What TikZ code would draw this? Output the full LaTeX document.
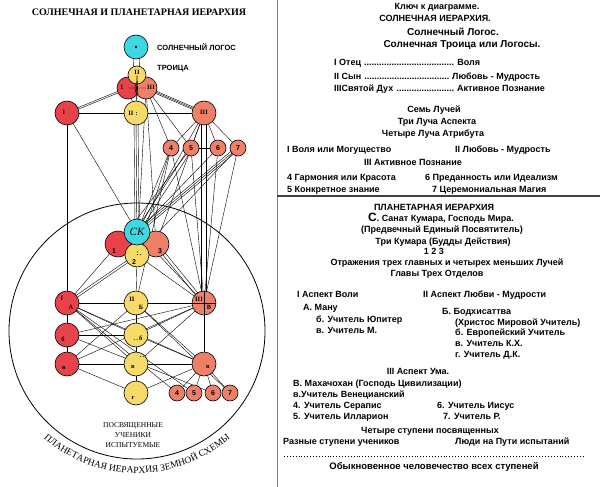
\documentclass[tikz,border=0pt]{standalone}
\usepackage{fontspec}
\setmainfont{Liberation Serif}
\setsansfont{Liberation Sans}
\usetikzlibrary{backgrounds,decorations.text}

\definecolor{rayred}{RGB}{233,66,74}
\definecolor{rayyellow}{RGB}{247,218,104}
\definecolor{raysalmon}{RGB}{239,128,104}
\definecolor{raycyan}{RGB}{62,216,226}

% dotted leader of fixed width
\newcommand{\keydots}[2]{\makebox[#1][s]{#2\ \cleaders\hbox{.}\hfill\ }}

\begin{document}
\begin{tikzpicture}[x=1pt,y=-1pt,
  orb/.style={circle,draw,line width=0.6pt,inner sep=0pt,minimum size=#1},
  glyph/.style={font=\bfseries\fontsize{6.5}{7}\selectfont,inner sep=0pt},
  digit/.style={font=\sffamily\bfseries\fontsize{7}{8}\selectfont,inner sep=0pt},
  minor/.style={orb=16pt,fill=raysalmon,digit},
  caption/.style={font=\sffamily\bfseries\fontsize{7.5}{9}\selectfont,inner sep=0pt,anchor=west},
  key/.style={font=\sffamily\bfseries\fontsize{9}{11}\selectfont,inner sep=0pt,text height=6.5pt,text depth=2pt},
  keyl/.style={key,anchor=west}]
  \useasboundingbox (0,0) rectangle (600,487);

  % left: the hierarchy
  \node[font=\bfseries\fontsize{10}{12}\selectfont] (title) at (139,12) {СОЛНЕЧНАЯ И ПЛАНЕТАРНАЯ ИЕРАРХИЯ};

  \node[orb=24pt,fill=raycyan] (logos) at (136,47) {};
  \fill (logos.center) circle[radius=1.3];
  \node[caption] (logos-t) at (157,47) {СОЛНЕЧНЫЙ ЛОГОС};
  \node[caption] (trinity-t) at (157,69) {ТРОИЦА};

  \node[orb=22pt,fill=rayred] (tr1) at (128,88) {};
  \node[orb=22pt,fill=raysalmon] (tr3) at (146,88) {};
  \node[orb=18pt,fill=rayyellow] (tr2) at (137,75) {};
  \draw[thin] (tr1.center) -- (tr3.center) (tr2.center) -- (137,99)
    (tr2.center) -- (tr1.south east) (tr2.center) -- (tr3.south west);
  \node[glyph] (tr2-t) at (137,72) {II};
  \node[glyph] (tr1-t) at (122,87) {I};
  \node[glyph] (tr3-t) at (151,87) {III};

  \node[orb=24pt,fill=rayred] (rI) at (67,113) {};
  \node[orb=24pt,fill=rayyellow] (rII) at (136,113) {};
  \node[orb=24pt,fill=raysalmon] (rIII) at (204,113) {};
  \node[glyph] (rI-t) at (64,112) {I};
  \node[glyph] (rII-t) at (133,113) {II\,\,:};
  \node[glyph] (rIII-t) at (204,112) {III};

  \node[minor] (r4) at (171,148) {4};
  \node[minor] (r5) at (191,148) {5};
  \node[minor] (r6) at (218,148) {6};
  \node[minor] (r7) at (238,148) {7};

  % Sanat Kumara and the three Kumaras
  \node[orb=26pt,fill=rayred] (k1) at (118,244) {};
  \node[orb=26pt,fill=raysalmon] (k3) at (156,244) {};
  \node[orb=24pt,fill=rayyellow] (k2) at (137,255) {};
  \node[orb=26pt,fill=raycyan] (sk) at (137,232) {\fontsize{11}{11}\selectfont\itshape СК};
  \node[digit] (k1-t) at (114,251) {1};
  \node[digit] (k3-t) at (160,251) {3};
  \node[digit] (k2-t) at (134,262) {2};
  \node[digit] (k2-d) at (139,254) {:\,.};

  % the three departments
  \node[orb=24pt,fill=rayred] (A) at (67,303) {};
  \node[orb=24pt,fill=rayyellow] (B) at (136,303) {};
  \node[orb=24pt,fill=raysalmon] (V) at (204,303) {};
  \draw (V.north) -- (V.south) (V.west) -- (V.east);
  \node[glyph] (A-t) at (62,298) {I};
  \node[glyph] (A-s) at (71,307) {А};
  \node[glyph] (B-t) at (132,299) {II};
  \node[glyph] (B-s) at (141,307) {Б};
  \node[glyph] (V-t) at (199,299) {III};
  \node[glyph] (V-s) at (209,307) {В};

  \node[orb=24pt,fill=rayred] (Ab) at (67,335) {};
  \node[orb=24pt,fill=rayyellow] (Bb) at (136,335) {};
  \node[glyph] (Ab-t) at (63,339) {б};
  \node[glyph] (Bb-t) at (138,338) {.\,.\,б};

  \node[orb=24pt,fill=rayred] (Av) at (67,364) {};
  \node[orb=24pt,fill=rayyellow] (Bv) at (136,364) {};
  \node[orb=24pt,fill=raysalmon] (Vv) at (204,364) {};
  \node[glyph] (Av-t) at (64,368) {в};
  \node[glyph] (Bv-t) at (133,367) {в};
  \node[glyph] (Bv-d) at (142,357) {.\,.};
  \node[glyph] (Vv-t) at (208,367) {в};

  \node[orb=24pt,fill=rayyellow] (Bg) at (136,393) {};
  \node[glyph] (Bg-t) at (133,398) {г};
  \node[minor] (m4) at (177,393) {4};
  \node[minor] (m5) at (194,393) {5};
  \node[minor] (m6) at (213,393) {6};
  \node[minor] (m7) at (230,393) {7};

  \node[font=\fontsize{7.5}{10}\selectfont,align=center,inner sep=0pt] (initiates) at (133,435)
    {ПОСВЯЩЕННЫЕ\\УЧЕНИКИ\\ИСПЫТУЕМЫЕ};

  \begin{pgfonlayer}{background}
    \draw[line width=0.8pt] (137,331) circle[radius=128];
    \foreach \a/\b/\s in {logos/tr2/-3,logos/tr2/3,tr1/rI/-2,tr1/rI/2,tr3/rIII/-3,tr3/rIII/0,tr3/rIII/3,
        rII/sk/-2,rII/sk/2,rIII/V/-3,rIII/V/2,r7/sk/-3,r7/sk/0,r7/sk/3,r5/sk/-2,r5/sk/2,
        k2/A/-2,k2/A/2,k3/V/-2,k3/V/2}
      \draw ([xshift=\s]\a.center) -- ([xshift=\s]\b.center);
    \foreach \a/\b in {tr2/rII,tr1/rII,tr3/r4,tr3/r5,tr3/k3,tr3/k2,
        rI/rII,rII/rIII,rI/A,rI/sk,rII/k2,rIII/r4,rIII/r5,rIII/r6,rIII/r7,r5/r6,
        rIII/sk,rIII/k3,r6/V,r7/V,r4/sk,r4/k2,r5/k1,r6/sk,r7/k2,r4/V,r5/V,
        k1/A,k2/B,k2/V,sk/V,A/B,B/V,A/Ab,Ab/Av,B/Bb,Bb/Bv,Bv/Bg,V/Vv,
        Ab/Bb,Av/Bv,Bv/Vv,A/Bb,A/Bv,A/Vv,A/m4,A/m5,Ab/m6,B/Av,B/Vv,B/m7,B/r4,
        V/Bb,V/Ab,V/Bv,V/Av,Bb/Vv,Bg/Av,Bg/Vv,Vv/m4,Vv/m5,Vv/m6,Vv/m7}
      \draw (\a.center) -- (\b.center);
  \end{pgfonlayer}

  \path[decorate,decoration={text along path,text align=center,
      text={|\fontsize{9.5}{10}\selectfont|ПЛАНЕТАРНАЯ ИЕРАРХИЯ ЗЕМНОЙ СХЕМЫ}}]
    (137,331) ++(150:142) arc[start angle=150,end angle=30,radius=142];

  % right: key to the diagram
  \draw[gray,line width=0.8pt] (277,0) -- (277,487);
  \draw[darkgray,line width=1.2pt] (277,196) -- (600,196);

  \node[key] (k-head) at (437,7) {Ключ к диаграмме.};
  \node[key] (k-solar) at (435,19) {СОЛНЕЧНАЯ ИЕРАРХИЯ.};
  \node[key,font=\sffamily\bfseries\fontsize{10}{12}\selectfont] (k-logos) at (453,33) {Солнечный Логос.};
  \node[key,font=\sffamily\bfseries\fontsize{10}{12}\selectfont] (k-trinity) at (462,45) {Солнечная Троица или Логосы.};
  \node[keyl] (k-father) at (334,63) {\keydots{123pt}{I Отец}Воля};
  \node[keyl] (k-son) at (334,77) {\keydots{118pt}{II Сын}Любовь - Мудрость};
  \node[keyl] (k-spirit) at (334,89) {\keydots{123pt}{IIIСвятой Дух}Активное Познание};

  \node[key] (k-rays) at (434,110) {Семь Лучей};
  \node[key] (k-aspect) at (437,122) {Три Луча Аспекта};
  \node[key] (k-attrib) at (433,134) {Четыре Луча Атрибута};
  \node[keyl] (k-ray1) at (287,150) {I Воля или Могущество};
  \node[keyl] (k-ray2) at (455,150) {II Любовь - Мудрость};
  \node[key] (k-ray3) at (413,163) {III Активное Познание};
  \node[keyl] (k-ray4) at (287,178) {4 Гармония или Красота};
  \node[keyl] (k-ray6) at (425,178) {6 Преданность или Идеализм};
  \node[keyl] (k-ray5) at (287,190) {5 Конкретное знание};
  \node[keyl] (k-ray7) at (432,190) {7 Церемониальная Магия};

  \node[key] (k-planet) at (434,208) {ПЛАНЕТАРНАЯ ИЕРАРХИЯ};
  \node[key] (k-sanat) at (441,219) {{\fontsize{12}{12}\selectfont С}. Санат Кумара, Господь Мира.};
  \node[key] (k-initiator) at (442,230) {(Предвечный Единый Посвятитель)};
  \node[key] (k-kumaras) at (443,242) {Три Кумара (Будды Действия)};
  \node[key] (k-123) at (434,252) {1 2 3};
  \node[key] (k-reflect) at (447,263) {Отражения трех главных и четырех меньших Лучей};
  \node[key] (k-heads) at (437,274) {Главы Трех Отделов};

  \node[keyl] (k-will) at (297,295) {I Аспект Воли};
  \node[keyl] (k-love) at (423,295) {II Аспект Любви - Мудрости};
  \node[keyl] (k-manu) at (303,308) {А. Ману};
  \node[keyl] (k-jupiter) at (316,320) {б. Учитель Юпитер};
  \node[keyl] (k-m) at (316,331) {в. Учитель М.};
  \node[keyl] (k-bodhi) at (442,312) {Б. Бодхисаттва};
  \node[keyl] (k-christ) at (455,323) {(Христос Мировой Учитель)};
  \node[keyl] (k-europe) at (455,333) {б. Европейский Учитель};
  \node[keyl] (k-kh) at (455,344) {в. Учитель К.Х.};
  \node[keyl] (k-dk) at (455,355) {г. Учитель Д.К.};

  \node[key] (k-mind) at (418,372) {III Аспект Ума.};
  \node[keyl] (k-maha) at (293,384) {В. Махачохан (Господь Цивилизации)};
  \node[keyl] (k-venet) at (293,395) {в.Учитель Венецианский};
  \node[keyl] (k-serapis) at (293,406) {4. Учитель Серапис};
  \node[keyl] (k-jesus) at (437,406) {6. Учитель Иисус};
  \node[keyl] (k-hilar) at (293,417) {5. Учитель Илларион};
  \node[keyl] (k-r) at (443,417) {7. Учитель Р.};

  \node[key] (k-grades) at (430,431) {Четыре ступени посвященных};
  \node[keyl] (k-pupils) at (283,442) {Разные ступени учеников};
  \node[keyl] (k-probat) at (455,442) {Люди на Пути испытаний};
  \coordinate (dots-l) at (284,456);
  \coordinate (dots-r) at (584,456);
  \draw[dotted,line width=0.9pt] (dots-l) -- (dots-r);
  \node[key,font=\sffamily\bfseries\fontsize{9.5}{11}\selectfont] (k-humanity) at (434,467) {Обыкновенное человечество всех ступеней};
\end{tikzpicture}
\end{document}
